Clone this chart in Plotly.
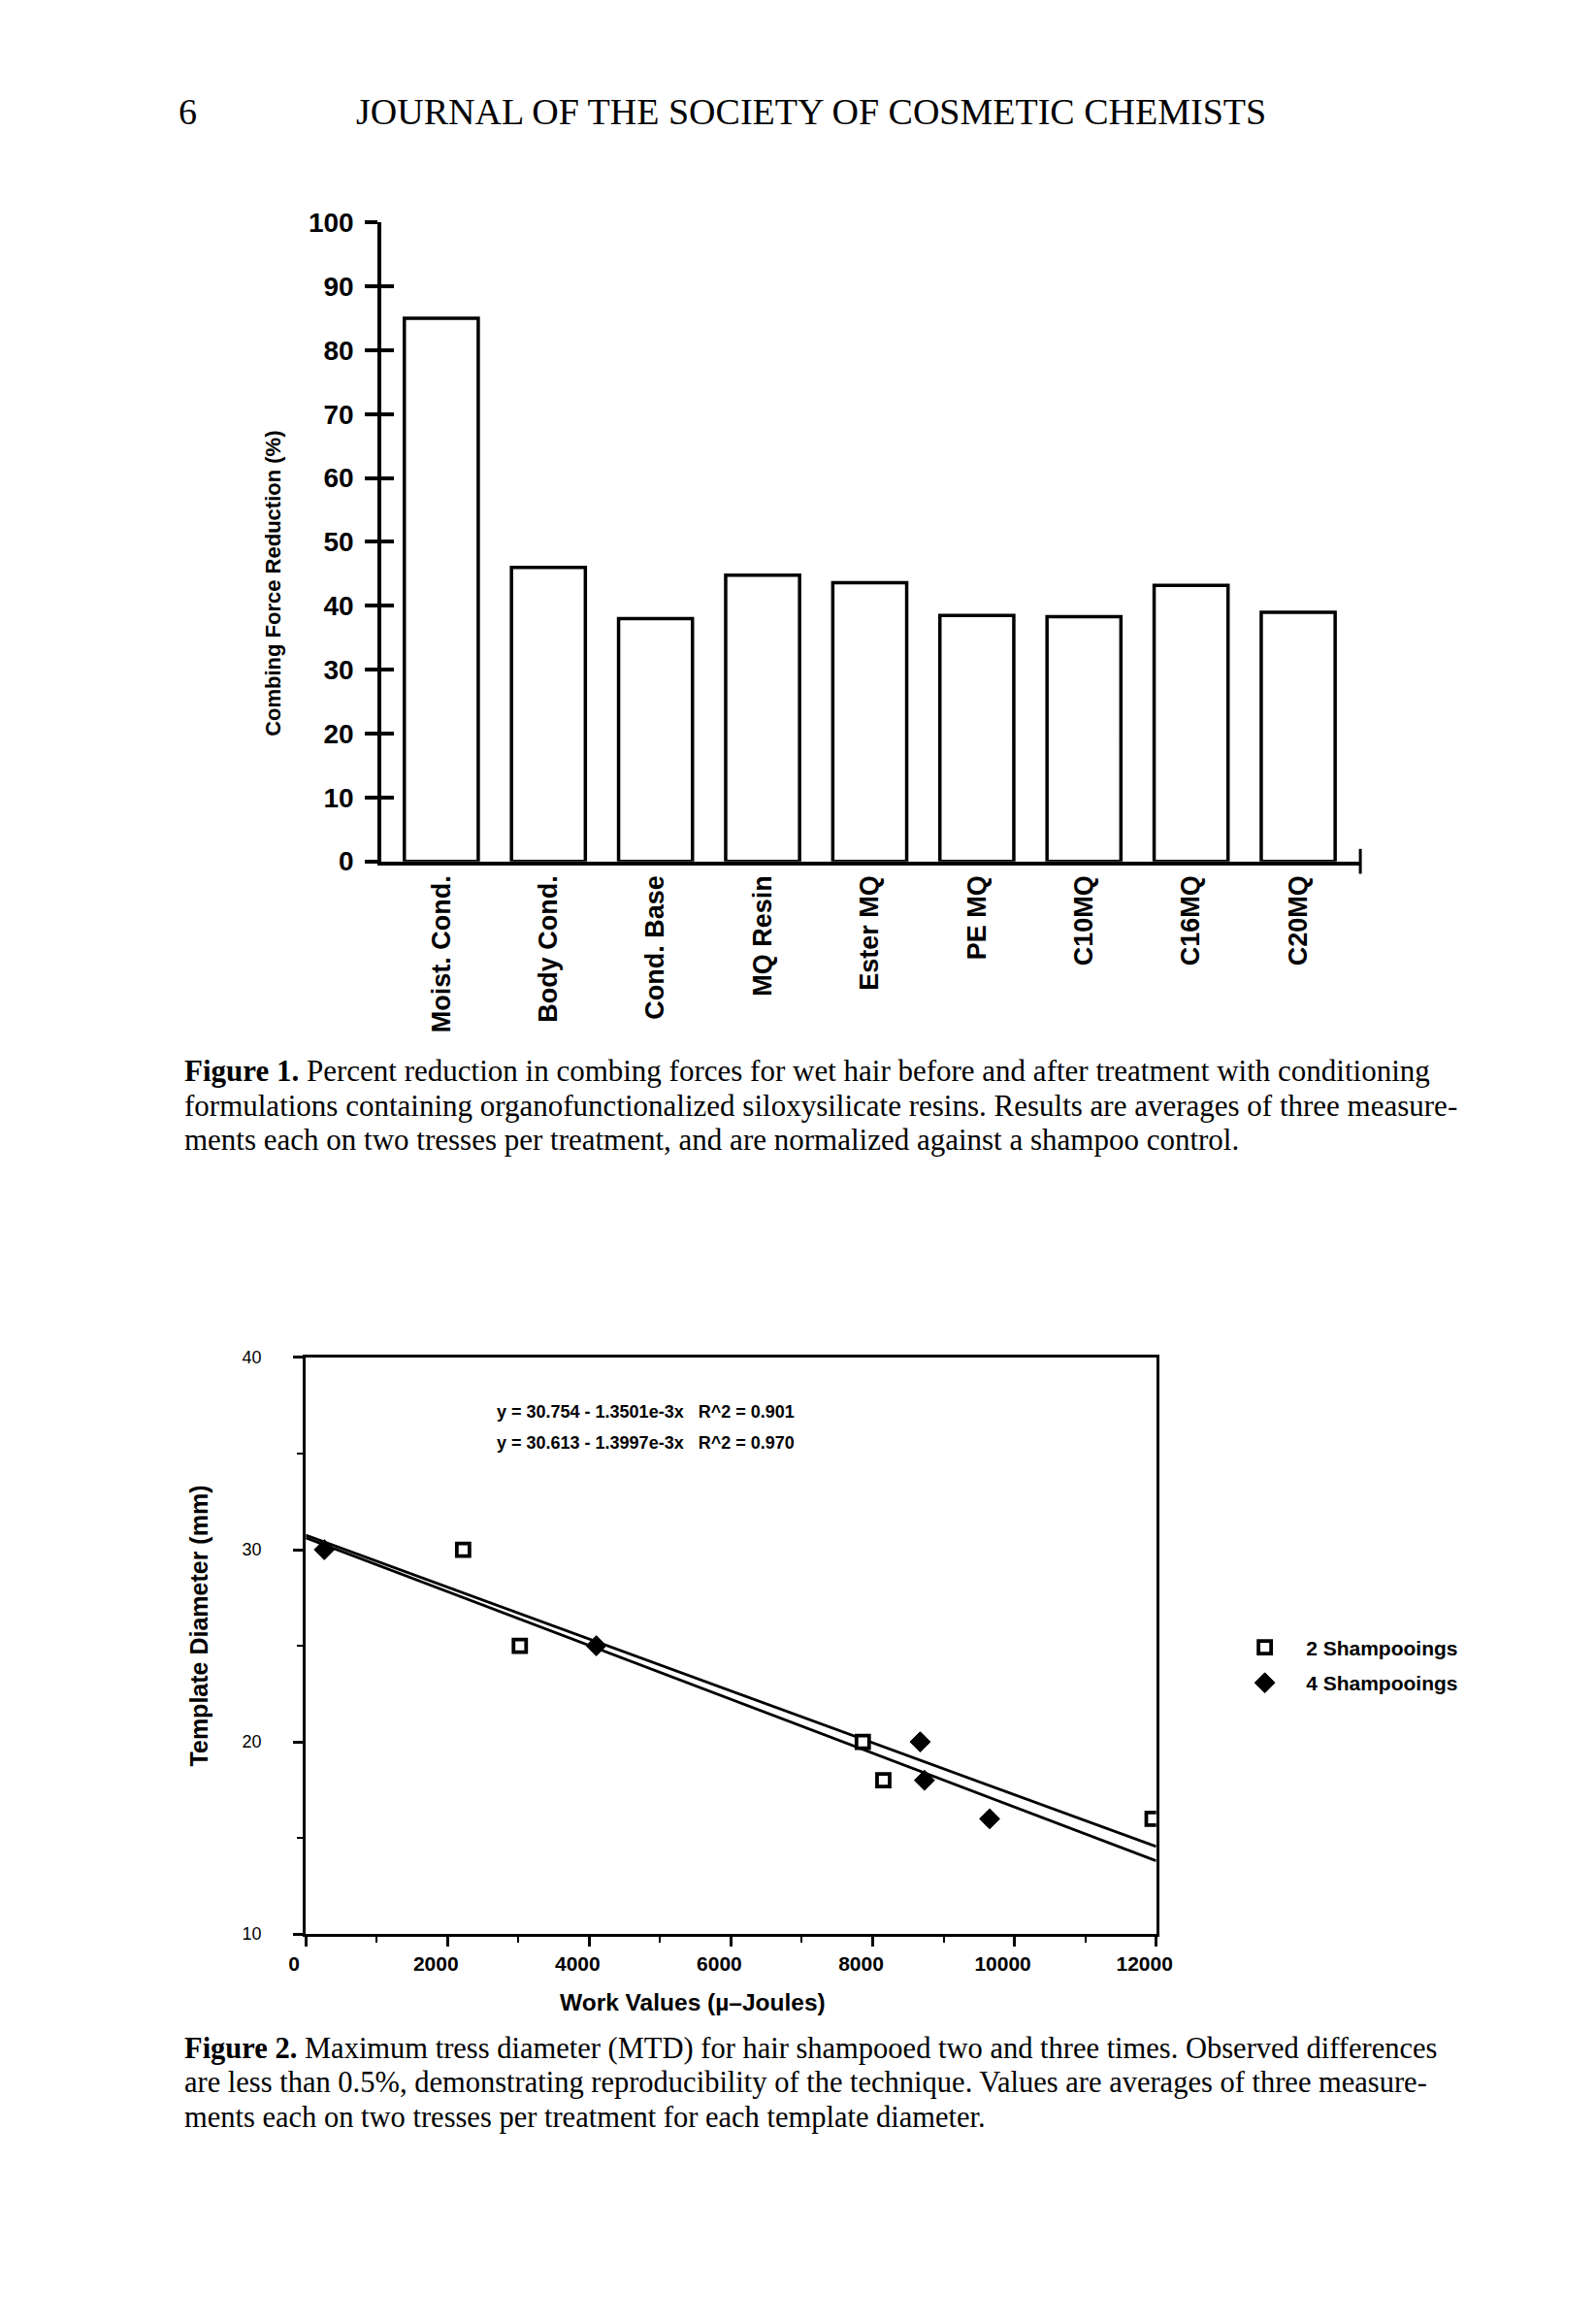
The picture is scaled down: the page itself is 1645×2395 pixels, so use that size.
import plotly.graph_objects as go

W, H = 1645, 2395

def px(x):
    return x / W

def py(y):
    return 1 - y / H

# ---------------- Figure 1 data ----------------
categories = ["Moist. Cond.", "Body Cond.", "Cond. Base", "MQ Resin", "Ester MQ",
              "PE MQ", "C10MQ", "C16MQ", "C20MQ"]
reduction_pct = [85, 46, 38, 44.8, 43.6, 38.5, 38.3, 43.2, 39.0]
fig1_yticks = [0, 10, 20, 30, 40, 50, 60, 70, 80, 90, 100]

# ---------------- Figure 2 data ----------------
work_2sh = [2220, 3020, 7860, 8150, 11950]
diam_2sh = [30, 25, 20, 18, 16]
work_4sh = [260, 4100, 8670, 8730, 9650]
diam_4sh = [30, 25, 20, 18, 16]
fit_intercepts = [30.754, 30.613]
fit_slopes = [-1.3501e-3, -1.3997e-3]
fit_r2 = [0.901, 0.970]
fig2_xrange = [0, 12000]
fig2_xticks = [0, 2000, 4000, 6000, 8000, 10000, 12000]
fig2_yticks = [10, 20, 30, 40]
series_names = ["2 Shampooings", "4 Shampooings"]

SANS = "Liberation Sans, Arial, sans-serif"
NARROW = "Liberation Sans Narrow, Arial Narrow, Liberation Sans, sans-serif"
SERIF = "Liberation Serif, Times New Roman, serif"

fig = go.Figure()

# Figure 1 bars
fig.add_trace(go.Bar(
    x=categories, y=reduction_pct, xaxis="x", yaxis="y",
    marker=dict(color="white", line=dict(color="black", width=3.5)),
    showlegend=False, hoverinfo="x+y"))

# Figure 2 fit lines
for b0, b1 in zip(fit_intercepts, fit_slopes):
    fig.add_trace(go.Scatter(
        x=fig2_xrange, y=[b0 + b1 * v for v in fig2_xrange],
        xaxis="x2", yaxis="y2", mode="lines",
        line=dict(color="black", width=2.8), showlegend=False, hoverinfo="skip"))

# Figure 2 points
fig.add_trace(go.Scatter(
    x=work_2sh, y=diam_2sh, xaxis="x2", yaxis="y2", mode="markers",
    name=series_names[0], legend="legend",
    marker=dict(symbol="square", size=13, color="white",
                line=dict(color="black", width=3.8))))
fig.add_trace(go.Scatter(
    x=work_4sh, y=diam_4sh, xaxis="x2", yaxis="y2", mode="markers",
    name=series_names[1], legend="legend2",
    marker=dict(symbol="diamond", size=16, color="black",
                line=dict(color="black", width=1))))

# Dummy trace to activate overlay axis for crossing ticks
fig.add_trace(go.Scatter(x=[None], y=[None], xaxis="x", yaxis="y3",
                         showlegend=False, hoverinfo="skip"))

leg_common = dict(xanchor="left", yanchor="middle", bgcolor="rgba(0,0,0,0)",
                  itemwidth=75, font=dict(family=NARROW, size=21, color="black", weight="bold"))

fig.update_layout(
    width=W, height=H,
    margin=dict(l=0, r=0, t=0, b=0),
    paper_bgcolor="white", plot_bgcolor="rgba(0,0,0,0)",
    bargap=0.31,
    showlegend=True,
    legend=dict(x=px(1262), y=py(1697), **leg_common),
    legend2=dict(x=px(1262), y=py(1734), **leg_common),
    # ---- Figure 1 axes ----
    xaxis=dict(domain=[px(375), px(1406)], anchor="y", type="category",
               range=[-0.56, 8.58], showline=True, linewidth=3.5, linecolor="black",
               ticks="", tickangle=-90, showgrid=False, zeroline=False,
               tickfont=dict(family=SANS, size=27, color="black", weight="bold")),
    yaxis=dict(domain=[py(876), py(209)], anchor="x", range=[0, 100],
               tickvals=fig1_yticks, ticks="outside", ticklen=13, tickwidth=3.5,
               tickcolor="black", showline=True, linewidth=3.5, linecolor="black",
               showgrid=False, zeroline=False, ticklabelstandoff=6,
               tickfont=dict(family=SANS, size=28, color="black", weight="bold")),
    yaxis3=dict(overlaying="y", anchor="x", range=[0, 100], tickvals=fig1_yticks,
                ticks="inside", ticklen=13, tickwidth=3.5, tickcolor="black",
                showticklabels=False, showline=False, showgrid=False, zeroline=False),
    # ---- Figure 2 axes ----
    xaxis2=dict(domain=[px(295.5), px(1191)], anchor="y2", range=fig2_xrange,
                tickvals=fig2_xticks, tickformat="d", ticks="outside", ticklen=10,
                tickwidth=2.5, tickcolor="black", showline=True, linewidth=3,
                linecolor="black", mirror=True, showgrid=False, zeroline=False,
                ticklabelshift=-12,
                minor=dict(dtick=1000, ticks="outside", ticklen=6, tickwidth=2,
                           tickcolor="black", showgrid=False),
                tickfont=dict(family=NARROW, size=21, color="black", weight="bold")),
    yaxis2=dict(domain=[py(1996), py(1394)], anchor="x2", range=[10, 40],
                tickvals=fig2_yticks, ticks="outside", ticklen=10, tickwidth=2.5,
                tickcolor="black", showline=True, linewidth=3, linecolor="black",
                mirror=True, showgrid=False, zeroline=False, ticklabelstandoff=29,
                minor=dict(dtick=5, ticks="outside", ticklen=6, tickwidth=2,
                           tickcolor="black", showgrid=False),
                tickfont=dict(family=SANS, size=18, color="black")),
)

# Axis titles (offset from centre as in the original)
fig.add_annotation(text="Combing Force Reduction (%)", xref="paper", yref="paper",
                   x=px(261), y=py(586), textangle=-90, xanchor="center", yanchor="middle",
                   showarrow=False,
                   font=dict(family=SANS, size=22, color="black", weight="bold"))
fig.add_annotation(text="Template Diameter (mm)", xref="paper", yref="paper",
                   x=px(183), y=py(1674), textangle=-90, xanchor="center", yanchor="middle",
                   showarrow=False,
                   font=dict(family=SANS, size=25, color="black", weight="bold"))
fig.add_annotation(text="Work Values (\u00b5\u2013Joules)", xref="paper", yref="paper",
                   x=px(703), y=py(2067), xanchor="center", yanchor="middle",
                   showarrow=False,
                   font=dict(family=NARROW, size=24.5, color="black", weight="bold"))

# Crossing tick at right end of Figure 1 x axis
fig.add_shape(type="line", xref="x domain", yref="paper", x0=1, x1=1,
              y0=py(876 + 13), y1=py(876 - 13), line=dict(color="black", width=3))

# Regression equations
eq_texts = [f"y = {b0:.3f} - {abs(b1)*1000:.4f}e-3x\u00a0\u00a0\u00a0R^2 = {r2:.3f}"
            for b0, b1, r2 in zip(fit_intercepts, fit_slopes, fit_r2)]
for i, t in enumerate(eq_texts):
    fig.add_annotation(text=t, xref="paper", yref="paper", x=px(495), y=py(1451 + 32 * i),
                       xanchor="left", yanchor="middle", showarrow=False,
                       font=dict(family=SANS, size=18, color="black", weight="bold"))

# Page header
fig.add_annotation(text="6", xref="paper", yref="paper", x=px(159), y=py(93),
                   xanchor="left", yanchor="middle", showarrow=False,
                   font=dict(family=SERIF, size=38, color="black"))
fig.add_annotation(text="JOURNAL OF THE SOCIETY OF COSMETIC CHEMISTS", xref="paper",
                   yref="paper", x=px(346), y=py(93), xanchor="left", yanchor="middle",
                   showarrow=False, font=dict(family=SERIF, size=38, color="black"))

# Captions
cap1 = ["<b>Figure 1.</b> Percent reduction in combing forces for wet hair before and after treatment with conditioning",
        "formulations containing organofunctionalized siloxysilicate resins. Results are averages of three measure-",
        "ments each on two tresses per treatment, and are normalized against a shampoo control."]
cap2 = ["<b>Figure 2.</b> Maximum tress diameter (MTD) for hair shampooed two and three times. Observed differences",
        "are less than 0.5%, demonstrating reproducibility of the technique. Values are averages of three measure-",
        "ments each on two tresses per treatment for each template diameter."]
for i, t in enumerate(cap1):
    fig.add_annotation(text=t, xref="paper", yref="paper", x=px(166), y=py(1095 + 36 * i),
                       xanchor="left", yanchor="middle", showarrow=False,
                       font=dict(family=SERIF, size=31, color="black"))
for i, t in enumerate(cap2):
    fig.add_annotation(text=t, xref="paper", yref="paper", x=px(166), y=py(2115 + 36 * i),
                       xanchor="left", yanchor="middle", showarrow=False,
                       font=dict(family=SERIF, size=30.5, color="black"))

fig.write_html("out.html")
